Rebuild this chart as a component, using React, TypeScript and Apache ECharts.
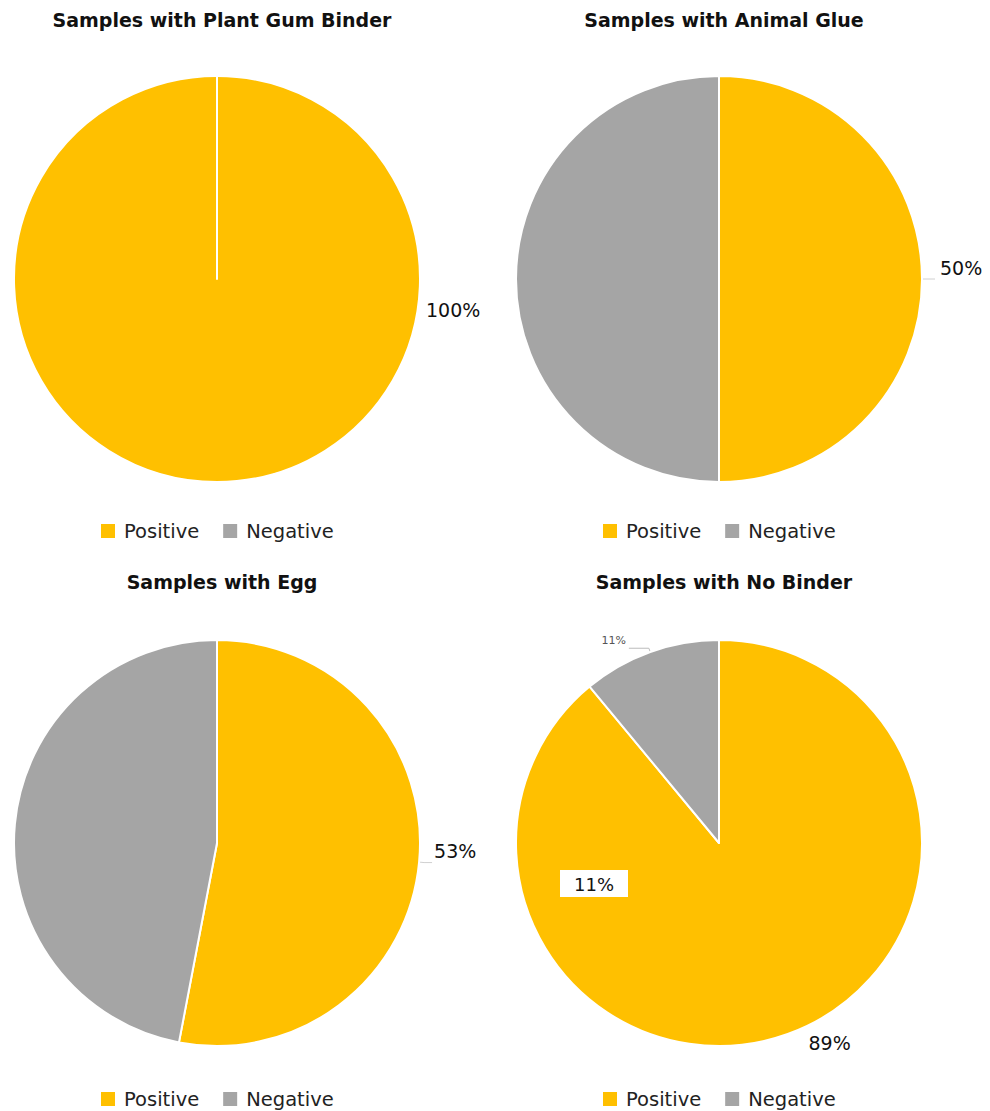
import React, { useEffect, useRef } from "react";
import * as echarts from "echarts";

const categories = ["Positive", "Negative"];
const chartTitles = [
  "Samples with Plant Gum Binder",
  "Samples with Animal Glue",
  "Samples with Egg",
  "Samples with No Binder",
];
const plantGum = [100, 0];
const animalGlue = [50, 50];
const egg = [53, 47];
const noBinder = [89, 11];
const colors = ["#FFC000", "#A5A5A5"];
const strayLabel = "11%";

const FONT = "'DejaVu Sans', Verdana, sans-serif";

export default function App() {
  const ref = useRef<HTMLDivElement>(null);
  useEffect(() => {
    document.body.style.margin = "0";
    if (!ref.current) return;
    const chart = echarts.init(ref.current, undefined, { renderer: "svg" });
    const centers: [number, number][] = [
      [217, 279],
      [719, 279],
      [217, 843],
      [719, 843],
    ];
    const datasets = [plantGum, animalGlue, egg, noBinder];
    const titleTops = [5, 5, 567, 567];
    const legendTops = [521, 521, 1089, 1089];
    const legendLefts = [101, 603, 101, 603];
    const layouts: any[] = [
      () => ({ x: 426, y: 310, align: "left", verticalAlign: "middle" }),
      () => ({ dy: -11 }),
      () => ({ dy: -12, dx: -3 }),
      (p: any) => (p.dataIndex === 0 ? { dx: 6, dy: 4 } : { dy: -8, dx: 2 }),
    ];

    const series: any[] = datasets.map((vals, i) => ({
      type: "pie",
      center: centers[i],
      radius: 203,
      startAngle: 90,
      clockwise: true,
      avoidLabelOverlap: false,
      itemStyle: { borderColor: "#fff", borderWidth: 2 },
      label: {
        show: true,
        position: "outside",
        formatter: "{d}%",
        fontFamily: FONT,
        fontSize: 19,
        color: "#111",
      },
      labelLine: {
        show: true,
        length: 5,
        length2: 8,
        lineStyle: { color: "#d0d0d0", width: 1 },
      },
      labelLayout: layouts[i],
      emphasis: { disabled: true },
      data: vals.map((v, j) => {
        const d: any = { name: categories[j], value: v, itemStyle: { color: colors[j] } };
        if (v === 0) {
          d.label = { show: false };
          d.labelLine = { show: false };
        }
        if (i === 0) {
          d.labelLine = { show: false };
        }
        if (j === 1 && (i === 1 || i === 2)) {
          d.label = { show: false };
          d.labelLine = { show: false };
        }
        if (i === 3 && j === 1) {
          d.label = { show: true, fontSize: 11, color: "#555", formatter: "{d}%" };
          d.labelLine = { show: true, length: 4, length2: 20, lineStyle: { color: "#bbb" } };
        }
        if (i === 3 && j === 0) {
          d.labelLine = { show: false };
        }
        return d;
      }),
    }));

    chart.setOption({
      animation: false,
      title: chartTitles.map((t, i) => ({
        text: t,
        left: centers[i][0],
        textAlign: "center",
        top: titleTops[i],
        textStyle: { fontFamily: FONT, fontWeight: "bold", fontSize: 19, color: "#111" },
      })),
      legend: legendLefts.map((l, i) => ({
        data: categories,
        left: l,
        top: legendTops[i],
        padding: 0,
        orient: "horizontal",
        icon: "rect",
        itemWidth: 14,
        itemHeight: 14,
        itemGap: 24,
        selectedMode: false,
        itemStyle: { borderWidth: 0 },
        textStyle: { fontFamily: FONT, fontSize: 19.5, color: "#222", padding: [0, 0, 0, 4] },
      })),
      graphic: [
        {
          type: "rect",
          shape: { x: 560, y: 870, width: 68, height: 27 },
          style: { fill: "#fff" },
          z: 100,
        },
        {
          type: "text",
          x: 594,
          y: 884,
          z: 101,
          style: {
            text: strayLabel,
            fill: "#111",
            font: `18px ${FONT}`,
            textAlign: "center",
            textVerticalAlign: "middle",
          },
        },
      ],
      series,
    });
    return () => chart.dispose();
  }, []);
  return <div ref={ref} style={{ width: 990, height: 1111 }} />;
}
